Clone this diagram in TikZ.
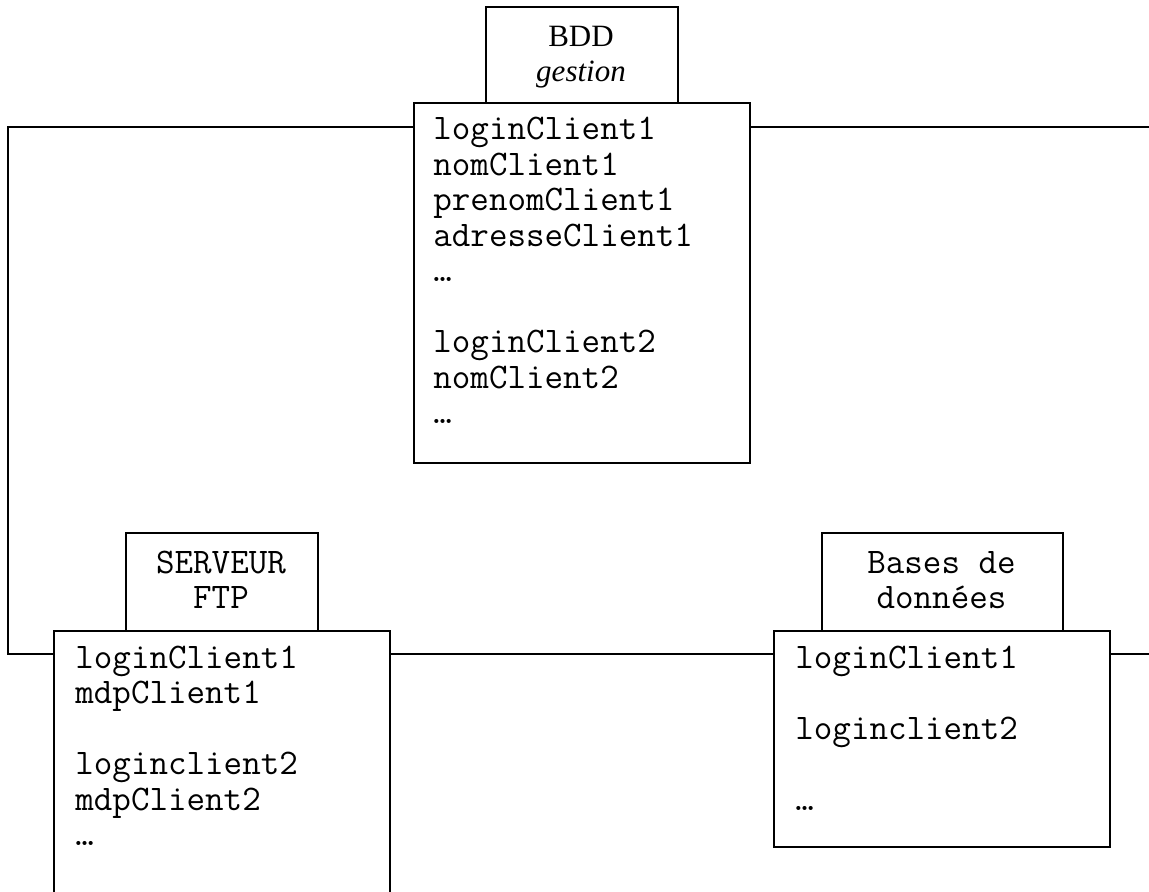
\documentclass[tikz,border=0pt]{standalone}
\usepackage{fontspec}
\setmainfont{Liberation Serif}
\begin{document}
\begin{tikzpicture}[x=0.5pt,y=-0.5pt,
  box/.style={draw,line width=1pt,inner sep=0pt,anchor=north west},
  conn/.style={line width=1pt},
  monotext/.style={inner sep=0pt,font=\fontsize{18}{17.75}\selectfont\ttfamily},
  serftext/.style={inner sep=0pt,font=\fontsize{15.5}{17.5}\selectfont\rmfamily}]
\useasboundingbox (0,0) rectangle (1149,892);
% boxes
\node[box,minimum width=96pt,minimum height=48pt] (bddlab) at (485,6) {};
\node[box,minimum width=168pt,minimum height=180pt] (bdd) at (413,102) {};
\node[box,minimum width=96pt,minimum height=49pt] (ftplab) at (125,532) {};
\node[box,minimum width=168pt,minimum height=140pt] (ftp) at (53,630) {};
\node[box,minimum width=120.5pt,minimum height=49pt] (bdlab) at (821,532) {};
\node[box,minimum width=168pt,minimum height=108pt] (bd) at (773,630) {};
% label texts
\node[serftext,anchor=base] (bddlabtxt) at (581,47) {\begin{tabular}[t]{@{}c@{}}BDD\\\textit{gestion}\end{tabular}};
\node[monotext,anchor=base] (ftplabtxt) at (221,573) {\begin{tabular}[t]{@{}c@{}}SERVEUR\\FTP\end{tabular}};
\node[monotext,anchor=base] (bdlabtxt) at (941.5,573) {\begin{tabular}[t]{@{}c@{}}Bases de\\données\end{tabular}};
% contents
\node[monotext,anchor=base west] (bddtxt) at (433,140) {\begin{tabular}[t]{@{}l@{}}loginClient1\\nomClient1\\prenomClient1\\adresseClient1\\…\\ \\loginClient2\\nomClient2\\…\end{tabular}};
\node[monotext,anchor=base west] (ftptxt) at (75,668) {\begin{tabular}[t]{@{}l@{}}loginClient1\\mdpClient1\\ \\loginclient2\\mdpClient2\\…\end{tabular}};
\node[monotext,anchor=base west] (bdtxt) at (795,668) {\begin{tabular}[t]{@{}l@{}}loginClient1\\ \\loginclient2\\ \\…\end{tabular}};
% connectors
\coordinate (cl) at (8,127);
\coordinate (cb) at (8,654);
\coordinate (cr) at (1149,127);
\coordinate (cr2) at (1149,654);
\draw[conn] (bdd.west |- cl) -- (cl) -- (cb) -- (ftp.west |- cb);
\draw[conn] (bdd.east |- cl) -- (cr);
\draw[conn] (ftp.east |- cb) -- (bd.west |- cb);
\draw[conn] (bd.east |- cb) -- (cr2);
\end{tikzpicture}
\end{document}
